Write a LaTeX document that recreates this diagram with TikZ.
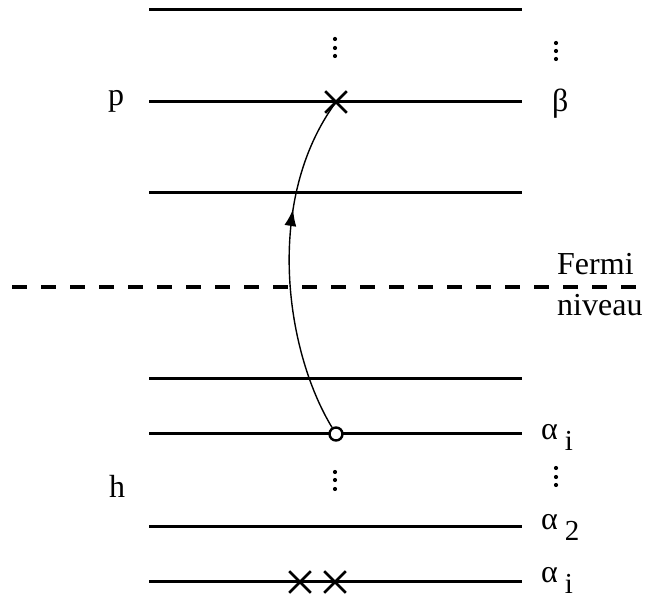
\documentclass[tikz,border=0pt]{standalone}
\usepackage{fontspec}
\setmainfont{Liberation Serif}
\usetikzlibrary{calc, shapes.misc, decorations.markings, arrows.meta}

\newcommand{\lowsub}[1]{\hspace{7pt}\raisebox{-11pt}{\fontsize{29}{29}\selectfont #1}}

\begin{document}
\begin{tikzpicture}[x=1pt, y=-1pt,
    level/.style={line width=3pt},
    fermi/.style={line width=3.6pt, dash pattern=on 15pt off 14pt, dash phase=17pt},
    label/.style={font=\fontsize{32}{32}\selectfont, inner sep=0pt},
    occupied/.style={cross out, draw, line width=2.6pt, minimum size=19pt, inner sep=0pt},
    hole/.style={circle, draw, fill=white, line width=2.4pt, minimum size=13pt, inner sep=0pt},
    excite/.style={line width=1.4pt, postaction={decorate},
        decoration={markings, mark=at position 0.66 with {\arrow{Latex[length=17pt,width=12pt]}}}}
    ]
    % Define picture size
    \useasboundingbox (0,0) rectangle (646,601);

    % Define the end points of the levels
    \def\levelLeft{149}
    \def\levelRight{522}

    % Draw the single-particle levels
    \foreach \name/\y in {top/10, beta/102, pthree/193, hthree/379, alphai/434, alphatwo/527, alphaone/582} {
        \coordinate (\name L) at (\levelLeft,\y);
        \coordinate (\name R) at (\levelRight,\y);
        \draw[level] (\name L) -- (\name R);
    }

    % Draw the Fermi level
    \coordinate (fermiL) at (0,287);
    \coordinate (fermiR) at (646,287);
    \draw[fermi] (fermiL) -- (fermiR);
    \node[label, anchor=base west] (fermiTop) at (557,275) {Fermi};
    \node[label, anchor=base west] (fermiBottom) at (557,316) {niveau};

    % Label particle and hole sides
    \node[label, anchor=base] (pLabel) at (116,106) {p};
    \node[label, anchor=base] (hLabel) at (117,498) {h};

    % Label the levels on the right
    \node[label, anchor=base west] (betaLabel) at (552,112) {β};
    \node[label, anchor=base west] (alphaiLabel) at (541,440) {α\lowsub{i}};
    \node[label, anchor=base west] (alphatwoLabel) at (541,530) {α\lowsub{2}};
    \node[label, anchor=base west] (alphaoneLabel) at (541,583) {α\lowsub{i}};

    % Draw the dots between levels
    \foreach \x/\y in {335/39, 335/48, 335/56, 556/43, 556/51, 556/59,
                       335/472, 335/480, 335/489, 556/468, 556/477, 556/485}
        \fill (\x,\y) circle (2.1pt);

    % Draw occupied states and the hole
    \node[occupied] (particle) at (336,102) {};
    \node[occupied] (coreA) at (300,582) {};
    \node[occupied] (coreB) at (335,582) {};
    \node[hole] (hole) at (336,434) {};

    % Draw the excitation
    \draw[excite] (hole) .. controls (285,350) and (264,200) .. (particle.center);

\end{tikzpicture}
\end{document}
